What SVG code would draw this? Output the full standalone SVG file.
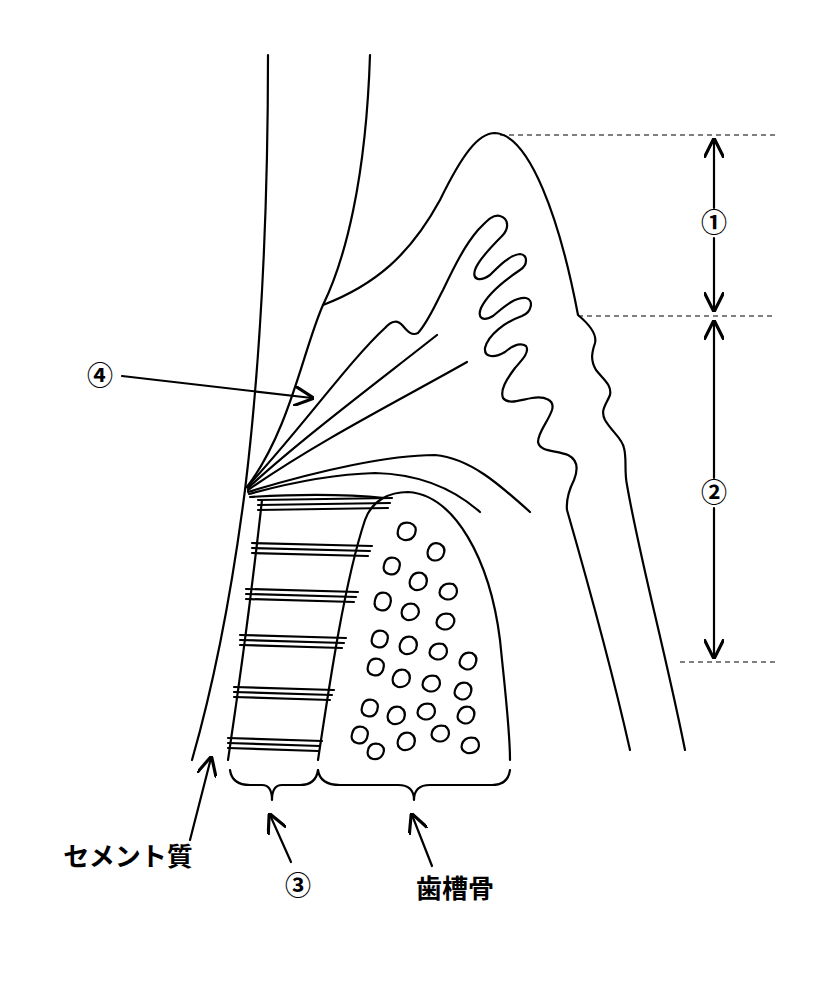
<svg xmlns="http://www.w3.org/2000/svg" width="830" height="1000" viewBox="0 0 830 1000">
<defs>
<style>
.l{fill:none;stroke:#000;stroke-width:2.2;stroke-linecap:round;stroke-linejoin:round}
.d{fill:none;stroke:#000;stroke-width:1.2;stroke-dasharray:5,4}
.t{font-family:"Noto Sans CJK JP",sans-serif;font-size:26px;font-weight:bold;fill:#000}
.h{fill:#fff;stroke:#000;stroke-width:2.2;stroke-linejoin:round}
</style>
<marker id="a" viewBox="0 0 10 10" refX="9" refY="5" markerWidth="9" markerHeight="9" orient="auto-start-reverse"><path d="M0,0 L10,5 L0,10" fill="none" stroke="#000" stroke-width="1.6"/></marker>
</defs>
<rect width="830" height="1000" fill="#fff"/>
<g id="tooth">
<path class="l" d="M268,55 C268,200 262,350 245,490 C232,590 215,680 192,760"/>
<path class="l" d="M370,55 C366,180 345,260 323,305 C303,350 290,430 247,487"/>
<path class="l" d="M262,500 C252,590 240,680 228,760"/>
</g>
<g id="gingiva">
<path class="l" d="M323,305 C375,285 410,255 440,200 C462,155 478,133 495,133 C530,135 560,220 578,315 C590,325 597,335 595,343 C592,352 590,360 596,370 C604,380 612,385 610,395 C606,405 600,410 605,420 C612,432 622,438 624,448 C627,460 624,470 627,485 C640,560 665,650 685,750"/>
<path class="l" d="M247,487 C300,430 350,360 385,328 C392,320 398,320 403,326 C408,332 412,336 418,333 C428,322 435,305 443,290 C455,265 465,245 478,230 C486,222 492,214 500,216 C508,218 510,228 502,236 C492,246 478,260 475,270 C472,280 480,282 490,275 C500,265 510,255 520,254 C528,255 528,265 520,270 C505,280 487,295 481,308 C477,318 483,322 493,316 C505,306 515,297 526,298 C534,300 532,312 522,316 C505,322 488,335 485,348 C484,358 495,358 505,352 C512,346 520,342 526,346 C530,352 522,360 515,368 C506,380 500,390 503,398 C508,405 520,400 532,398 C545,396 555,400 552,410 C548,422 538,432 538,442 C540,452 555,450 568,455 C578,460 578,470 574,480 C568,492 566,500 567,510 C590,590 612,670 630,750"/>
</g>
<g id="fibers">
<path class="l" d="M248,488 C300,440 380,380 437,335"/>
<path class="l" d="M248,490 C320,440 400,400 467,362"/>
<path class="l" d="M248,492 C320,470 390,455 435,455 C470,458 500,485 530,512"/>
<path class="l" d="M249,494 C300,480 340,474 375,473 C420,474 455,490 480,512"/>
<path class="l" d="M250,497 C300,494 345,494 385,498"/>
<g class="l">
<path d="M258,500 L392,498"/><path d="M258,505 L390,503"/><path d="M258,510 L388,508"/>
<path d="M252,543 L372,546"/><path d="M252,548 L370,551"/><path d="M252,553 L368,556"/>
<path d="M246,589 L358,592"/><path d="M246,594 L356,597"/><path d="M246,599 L354,602"/>
<path d="M240,635 L346,638"/><path d="M240,640 L344,643"/><path d="M240,645 L342,648"/>
<path d="M234,687 L334,690"/><path d="M234,692 L332,695"/><path d="M234,697 L330,700"/>
<path d="M228,738 L322,741"/><path d="M228,743 L320,746"/><path d="M228,748 L318,751"/>
</g>
</g>
<g id="bone">
<path class="l" d="M318,760 C330,680 345,580 365,520 C372,500 390,492 408,492 C455,495 490,560 500,640 C505,690 510,730 510,760"/>
<g class="h">
<path d="M398,530 q2,-9 12,-7 q8,3 5,11 q-3,7 -11,6 q-8,-2 -6,-10 z"/>
<path d="M428,550 q3,-9 12,-6 q7,4 3,12 q-4,6 -11,4 q-6,-3 -4,-10 z"/>
<path d="M384,565 q2,-9 11,-7 q7,3 4,11 q-3,7 -10,5 q-7,-2 -5,-9 z"/>
<path d="M410,580 q3,-9 12,-7 q7,4 4,12 q-4,6 -11,5 q-7,-3 -5,-10 z"/>
<path d="M440,590 q3,-8 13,-6 q6,4 3,11 q-4,6 -11,4 q-7,-3 -5,-9 z"/>
<path d="M375,600 q2,-9 11,-7 q7,3 4,12 q-3,7 -10,5 q-7,-2 -5,-10 z"/>
<path d="M402,610 q3,-8 12,-6 q7,4 4,11 q-4,6 -11,5 q-7,-3 -5,-10 z"/>
<path d="M437,620 q3,-8 13,-6 q7,4 3,11 q-4,6 -11,4 q-7,-3 -5,-9 z"/>
<path d="M372,638 q2,-9 11,-7 q7,3 4,11 q-3,7 -10,5 q-7,-2 -5,-9 z"/>
<path d="M400,644 q3,-9 12,-7 q7,4 4,12 q-4,6 -11,5 q-7,-3 -5,-10 z"/>
<path d="M430,650 q3,-8 13,-6 q6,4 3,11 q-4,6 -11,4 q-7,-3 -5,-9 z"/>
<path d="M460,660 q3,-9 12,-7 q7,4 3,12 q-4,6 -10,4 q-7,-3 -5,-9 z"/>
<path d="M368,666 q2,-9 11,-7 q7,3 4,11 q-3,7 -10,5 q-7,-2 -5,-9 z"/>
<path d="M393,677 q3,-9 12,-7 q7,4 4,12 q-4,6 -11,5 q-7,-3 -5,-10 z"/>
<path d="M423,682 q3,-8 13,-6 q6,4 3,11 q-4,6 -11,4 q-7,-3 -5,-9 z"/>
<path d="M455,690 q3,-9 12,-7 q7,4 3,12 q-4,6 -10,4 q-7,-3 -5,-9 z"/>
<path d="M362,707 q2,-9 11,-7 q7,3 4,11 q-3,7 -10,5 q-7,-2 -5,-9 z"/>
<path d="M388,714 q3,-9 12,-7 q7,4 4,12 q-4,6 -11,5 q-7,-3 -5,-10 z"/>
<path d="M418,710 q3,-8 13,-6 q6,4 3,11 q-4,6 -11,4 q-7,-3 -5,-9 z"/>
<path d="M458,714 q3,-9 12,-7 q7,4 3,12 q-4,6 -10,4 q-7,-3 -5,-9 z"/>
<path d="M352,734 q2,-9 11,-7 q7,3 4,11 q-3,7 -10,5 q-7,-2 -5,-9 z"/>
<path d="M432,732 q3,-8 13,-6 q6,4 3,11 q-4,6 -11,4 q-7,-3 -5,-9 z"/>
<path d="M398,740 q3,-9 12,-7 q7,4 4,12 q-4,6 -11,5 q-7,-3 -5,-10 z"/>
<path d="M462,744 q3,-8 13,-6 q6,4 3,11 q-4,5 -11,4 q-7,-3 -5,-9 z"/>
<path d="M368,750 q2,-8 11,-6 q7,3 4,10 q-3,6 -10,5 q-7,-2 -5,-9 z"/>
</g>
</g>
<g id="brackets">
<path class="l" d="M230,770 Q232,785 250,785 L262,785 Q272,785 272,800 Q272,785 282,785 L300,785 Q316,785 318,770"/>
<path class="l" d="M318,770 Q320,785 340,785 L398,785 Q414,785 414,800 Q414,785 430,785 L492,785 Q508,785 510,770"/>
</g>
<g id="dims">
<path class="d" d="M500,135 H775"/><path class="d" d="M578,316 H775"/><path class="d" d="M680,662 H775"/>
<path class="l" d="M714,140 V208" marker-start="url(#a)"/><path class="l" d="M714,238 V310" marker-end="url(#a)"/>
<path class="l" d="M714,322 V478" marker-start="url(#a)"/><path class="l" d="M714,508 V657" marker-end="url(#a)"/>
</g>
<g id="connectors">
<path class="l" d="M122,376 L312,398" marker-end="url(#a)"/>
<path class="l" d="M190,840 L211,758" marker-end="url(#a)"/>
<path class="l" d="M291,862 L270,815" marker-end="url(#a)"/>
<path class="l" d="M432,866 L412,815" marker-end="url(#a)"/>
</g>
<g id="labels">
<text class="t" x="714" y="232" text-anchor="middle">①</text>
<text class="t" x="714" y="502" text-anchor="middle">②</text>
<text class="t" x="298" y="895" text-anchor="middle">③</text>
<text class="t" x="100" y="385" text-anchor="middle">④</text>
<text class="t" x="128" y="866" text-anchor="middle">セメント質</text>
<text class="t" x="455" y="898" text-anchor="middle">歯槽骨</text>
</g>
</svg>
